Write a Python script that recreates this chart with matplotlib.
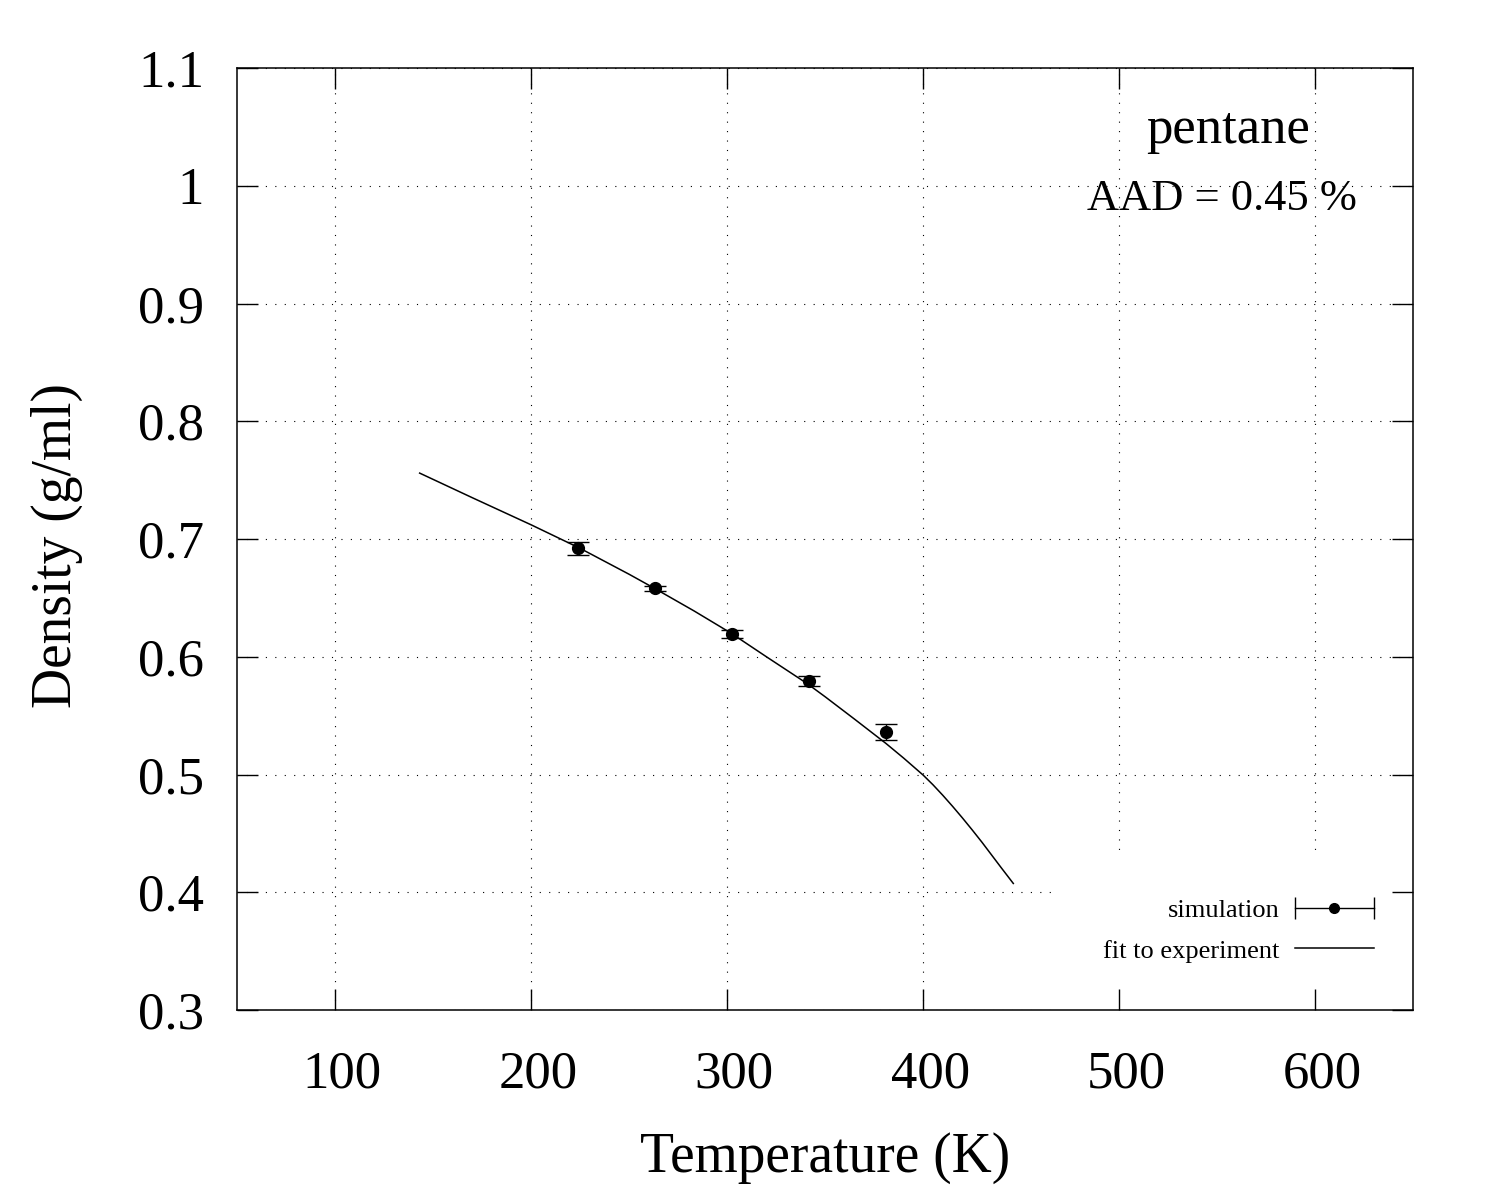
import matplotlib
matplotlib.use("Agg")
import matplotlib.pyplot as plt
from matplotlib.container import ErrorbarContainer
from matplotlib.legend_handler import HandlerBase
from matplotlib.lines import Line2D
from matplotlib.transforms import ScaledTranslation

plt.rcParams["font.family"] = ["Liberation Serif", "DejaVu Serif"]

# simulation points
sim_T = [224, 263, 302.5, 341.5, 381]
sim_rho = [0.692, 0.658, 0.619, 0.5796, 0.5362]
sim_err = [0.0056, 0.0023, 0.0034, 0.0042, 0.0068]

# fit to experiment
fit_T = [143, 170, 200, 225, 250, 263, 283, 302, 320, 341, 350, 365,
         381, 390, 400, 405, 410, 415, 420, 425, 430, 435, 440, 443, 446]
fit_rho = [0.756, 0.735, 0.712, 0.692, 0.670, 0.658, 0.639, 0.620, 0.600,
           0.577, 0.566, 0.547, 0.5264, 0.514, 0.4995, 0.4913, 0.4824,
           0.473, 0.4632, 0.453, 0.4425, 0.4315, 0.4205, 0.414, 0.4075]

x_ticks = [100, 200, 300, 400, 500, 600]
y_ticks = [0.3, 0.4, 0.5, 0.6, 0.7, 0.8, 0.9, 1.0, 1.1]
y_tick_labels = ["0.3", "0.4", "0.5", "0.6", "0.7", "0.8", "0.9", "1", "1.1"]

rect = [0.1583, 0.1583, 0.7837, 0.785]
fig = plt.figure(figsize=(15, 12), dpi=100)

# grid lives on its own axes underneath so the key box can blank it
gax = fig.add_axes(rect, zorder=0)
gax.set_xlim(50, 650)
gax.set_ylim(0.3, 1.1)
gax.set_xticks(x_ticks)
gax.set_yticks(y_ticks)
gax.grid(True, color="black", linestyle=(0, (1, 7.5)), linewidth=0.8)
gax.tick_params(length=0, labelbottom=False, labelleft=False)
for s in gax.spines.values():
    s.set_visible(False)

ax = fig.add_axes(rect, zorder=1)
ax.patch.set_visible(False)
ax.set_xlim(50, 650)
ax.set_ylim(0.3, 1.1)
ax.set_xticks(x_ticks)
ax.set_yticks(y_ticks)
ax.set_yticklabels(y_tick_labels)

ax.tick_params(direction="in", top=True, right=True, length=15, width=1,
               labelsize=38)
ax.tick_params(axis="x", pad=29)
ax.tick_params(axis="y", pad=24)
for lab in ax.get_xticklabels():
    lab.set_transform(lab.get_transform()
                      + ScaledTranslation(0.07, 0, fig.dpi_scale_trans))
for s in ax.spines.values():
    s.set_linewidth(1.1)

sim = ax.errorbar(sim_T, sim_rho, yerr=sim_err, fmt="o", color="black",
                  markersize=8.5, capsize=8, elinewidth=1, capthick=1,
                  zorder=3)
fit_line, = ax.plot(fit_T, fit_rho, color="black", linewidth=1.1)


class HorizErrHandler(HandlerBase):
    # gnuplot draws the errorbar key sample lying on its side
    def create_artists(self, legend, orig_handle, xdescent, ydescent,
                       width, height, fontsize, trans):
        x0, x1 = -xdescent, -xdescent + width
        y = height / 2 - ydescent
        bar = Line2D([x0, x1], [y, y], color="black", lw=1, transform=trans)
        caps = Line2D([x0, x1], [y, y], ls="none", marker="|",
                      markersize=16, mew=1, color="black", transform=trans)
        dot = Line2D([(x0 + x1) / 2], [y], ls="none", marker="o",
                     markersize=7, color="black", transform=trans)
        return [bar, caps, dot]


leg = ax.legend([sim, fit_line], ["simulation", "fit to experiment"],
                loc="lower right", bbox_to_anchor=(1.007, 0.0),
                borderaxespad=0, borderpad=1.8, fontsize=19,
                markerfirst=False, handlelength=3.0, handletextpad=0.57,
                labelspacing=0.65, frameon=True, fancybox=False,
                handler_map={ErrorbarContainer: HorizErrHandler()})
leg.get_frame().set_facecolor("white")
leg.get_frame().set_edgecolor("none")
leg.get_frame().set_alpha(1)
leg.set_zorder(1)

ax.text(0.8426, 0.9204, "pentane", transform=ax.transAxes, ha="center",
        va="baseline", fontsize=38)
ax.text(0.8375, 0.8493, "AAD = 0.45 %", transform=ax.transAxes, ha="center",
        va="baseline", fontsize=32)

ax.set_xlabel("Temperature (K)", fontsize=40)
ax.set_ylabel("Density (g/ml)", fontsize=40)
ax.xaxis.set_label_coords(0.5, -0.129)
ax.yaxis.set_label_coords(-0.131, 0.493)

fig.savefig("out.png", dpi=100)
